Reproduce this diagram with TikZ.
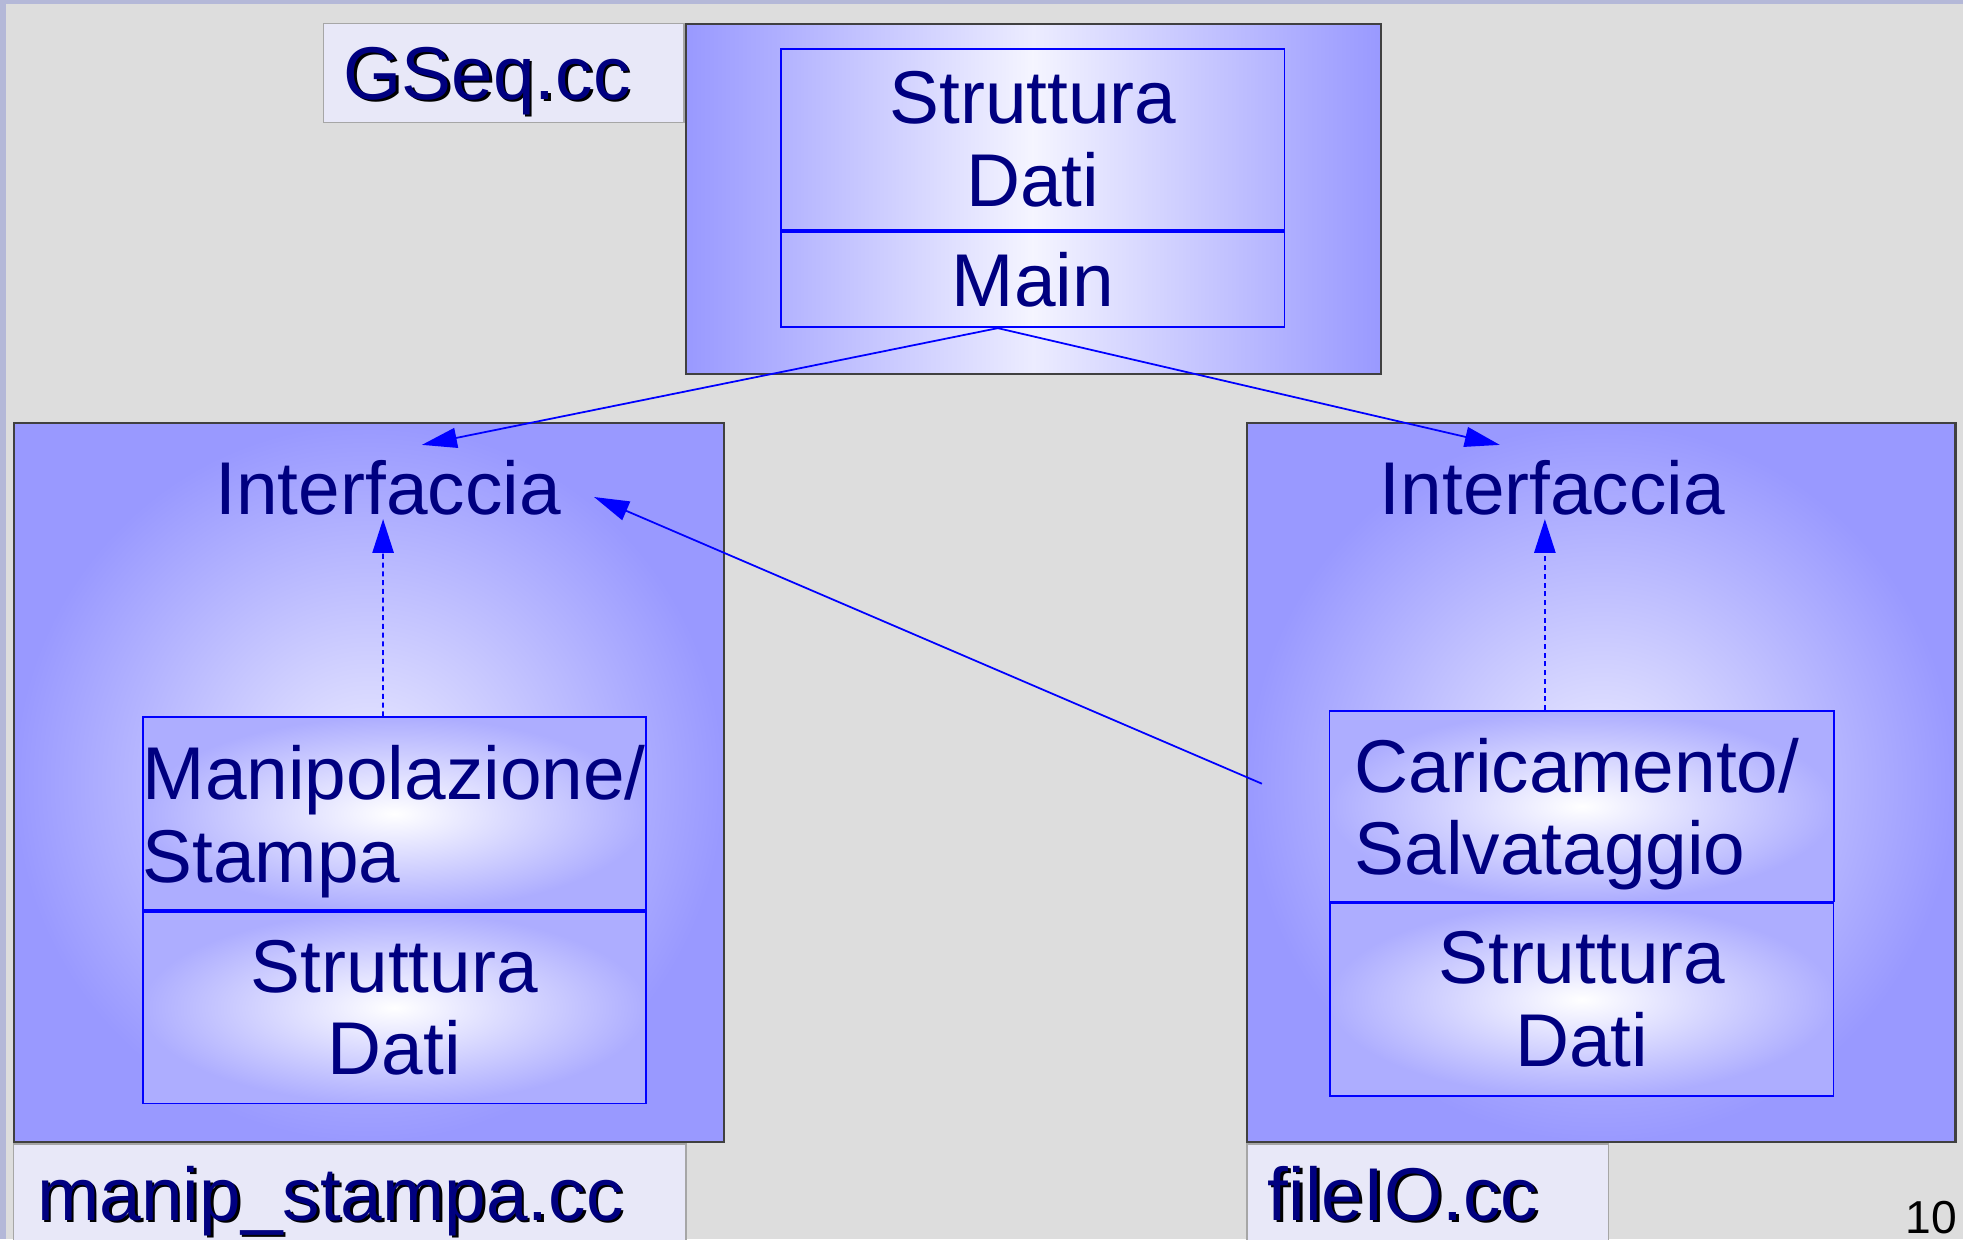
\documentclass[tikz,border=0pt]{standalone}
\usepackage{fontspec}
\setmainfont{Liberation Sans}
\usepackage{xcolor}
\usetikzlibrary{positioning,calc,arrows.meta}
\definecolor{navy}{HTML}{000080}
\definecolor{peri}{HTML}{9999FF}
\definecolor{pale}{HTML}{ECECFF}
\definecolor{linkblue}{HTML}{0000FF}
\definecolor{slide}{HTML}{DDDDDD}
\definecolor{strip}{HTML}{B4B8D8}
\definecolor{lblfill}{HTML}{E8E8F8}
\newcommand{\bigfont}{\fontsize{17}{18.8}\selectfont}
\newcommand{\lbltext}[1]{\leavevmode\rlap{\kern0.6pt\raisebox{-0.6pt}{\color{black}#1}}{\color{navy}#1}}
\newcommand{\topstrut}{\rule{0pt}{0.56cm}}
\tikzstyle{module} = [rectangle, draw=black!75, line width=0.5pt, inner sep=0pt, inner color=pale, outer color=peri]
\tikzstyle{topmodule} = [rectangle, draw=black!75, line width=0.5pt, inner sep=0pt, left color=peri, right color=peri, middle color=pale]
\tikzstyle{cell} = [rectangle, draw=linkblue, line width=0.4pt, inner sep=0pt, minimum width=4.02cm, text=navy, font=\bigfont, align=center, inner color=white, outer color=peri!80]
\tikzstyle{topcell} = [cell, left color=peri!75, right color=peri!75, middle color=white!90!peri]
\tikzstyle{filelabel} = [rectangle, draw=black!35, fill=lblfill, inner sep=0pt, text depth=0pt, font=\bigfont, align=left, minimum height=0.79cm]
\tikzstyle{iface} = [inner sep=0.12cm, text=navy, font=\bigfont]
\tikzstyle{uses} = [draw=linkblue, line width=0.4pt, -{Triangle[length=2.8mm,width=1.6mm]}]
\tikzstyle{impl} = [uses, dash pattern=on 0.04cm off 0.03cm, -{Triangle[length=2.7mm,width=1.7mm]}]

\begin{document}
\begin{tikzpicture}
  % slide background
  \fill[slide] (0,0) rectangle (15.68,-9.90);
  \fill[strip] (0,0) rectangle (15.68,-0.035);
  \fill[strip] (0,0) rectangle (0.05,-9.90);
  \useasboundingbox (0,0) rectangle (15.68,-9.90);

  % GSeq.cc
  \node[topmodule, minimum width=5.55cm, minimum height=2.80cm] (gseq) at (8.255,-1.59) {};
  \node[filelabel, anchor=north east, minimum width=2.88cm, inner xsep=0.16cm, text width=2.56cm] (gseqlbl) at (gseq.north west) {\lbltext{GSeq.cc}};
  \node[topcell, minimum height=1.45cm] (gseqdati) at (8.25,-1.115) {Struttura\\Dati};
  \node[topcell, minimum height=0.76cm, below=0pt of gseqdati] (gseqmain) {Main};

  % manip_stampa.cc
  \node[module, minimum width=5.67cm, minimum height=5.74cm] (manip) at (2.945,-6.25) {};
  \node[filelabel, anchor=north west, minimum width=5.37cm, inner xsep=0.19cm, text width=4.99cm] (maniplbl) at (manip.south west) {\lbltext{manip\_stampa.cc}};
  \node[iface] (manipint) at (3.10,-3.90) {Interfaccia};
  \node[cell, minimum height=1.54cm, text width=4.02cm, align=left] (manipop) at (3.15,-6.50) {\topstrut Manipolazione/\\Stampa};
  \node[cell, minimum height=1.53cm, below=0pt of manipop] (manipdati) {Struttura\\Dati};

  % fileIO.cc
  \node[module, minimum width=5.66cm, minimum height=5.74cm] (fileio) at (12.79,-6.25) {};
  \node[filelabel, anchor=north west, minimum width=2.89cm, inner xsep=0.17cm, text width=2.55cm] (fileiolbl) at (fileio.south west) {\lbltext{fileIO.cc}};
  \node[iface] (fileint) at (12.40,-3.90) {Interfaccia};
  \node[cell, minimum height=1.52cm, inner xsep=0.2cm, text width=3.63cm, align=left] (fileop) at (12.635,-6.44) {\topstrut Caricamento/\\Salvataggio};
  \node[cell, minimum height=1.54cm, below=0pt of fileop] (filedati) {Struttura\\Dati};

  % dependencies
  \coordinate (fork) at ($(gseqmain.south)+(-0.28,0)$);
  \draw[uses] (fork) -- ($(manipint.north)+(0.27,0)$);
  \draw[uses] (fork) -- ($(fileint.north)+(-0.42,0)$);
  \coordinate (callsite) at (10.08,-6.26);
  \draw[uses] (callsite) -- ($(manipint.east)+(0.14,-0.07)$);
  \draw[impl] ($(manipop.north)+(-0.09,0)$) -- ($(manipint.south)+(-0.04,0.10)$);
  \draw[impl] ($(fileop.north)+(-0.295,0)$) -- ($(fileint.south)+(-0.06,0.10)$);

  \node[anchor=base east, inner sep=0pt, font=\fontsize{10.5}{12}\selectfont] (pageno) at (15.64,-9.85) {10};
\end{tikzpicture}
\end{document}
